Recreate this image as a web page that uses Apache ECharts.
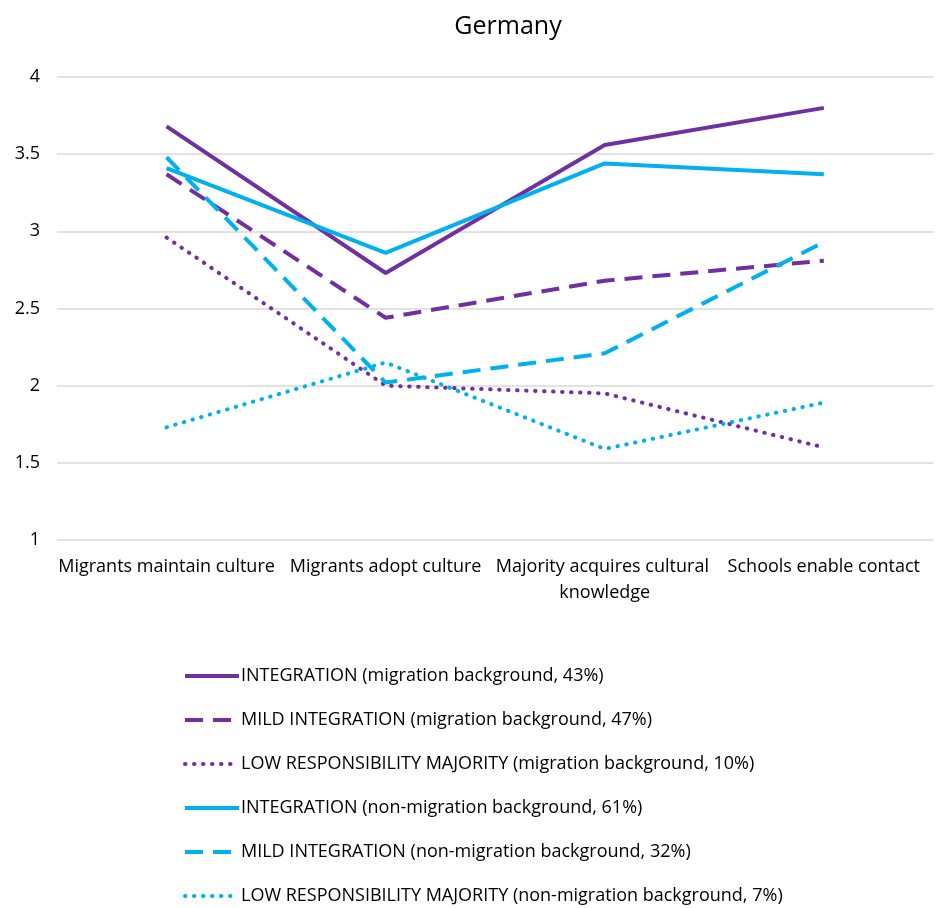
<!DOCTYPE html>
<html>
<head>
<meta charset="utf-8">
<title>Germany</title>
<script src="https://cdn.jsdelivr.net/npm/echarts@6/dist/echarts.min.js"></script>
<style>
	html, body { margin: 0; padding: 0; background: #fff; }
	#chart { width: 936px; height: 908px; }
</style>
</head>
<body>
<div id="chart"></div>
<script>
	// categories on the x axis
	var categories = ['Migrants maintain culture', 'Migrants adopt culture', 'Majority acquires cultural knowledge', 'Schools enable contact'];
	var yTicks = [1, 4, 0.5]; // min, max, step

	var integrationMig = [3.68, 2.73, 3.56, 3.80];
	var mildMig = [3.37, 2.44, 2.68, 2.81];
	var lowMig = [2.96, 2.00, 1.95, 1.60];
	var integrationNon = [3.41, 2.86, 3.44, 3.37];
	var mildNon = [3.48, 2.02, 2.21, 2.93];
	var lowNon = [1.73, 2.15, 1.59, 1.89];

	var names = [
		'INTEGRATION (migration background, 43%)',
		'MILD INTEGRATION (migration background, 47%)',
		'LOW RESPONSIBILITY MAJORITY (migration background, 10%)',
		'INTEGRATION (non-migration background, 61%)',
		'MILD INTEGRATION (non-migration background, 32%)',
		'LOW RESPONSIBILITY MAJORITY (non-migration background, 7%)'
	];

	var purple = '#7030A0';
	var blue = '#00B0F0';
	var font = 'Open Sans';

	function mkLine(name, data, color, type) {
		var dash = 'solid';
		if (type == 'dash') dash = [18, 10];
		if (type == 'dot') dash = [0.5, 8.5];
		return {
			name: name,
			type: 'line',
			data: data,
			symbol: 'none',
			smooth: false,
			lineStyle: {
				color: color,
				width: 4,
				type: dash,
				cap: type == 'dot' ? 'round' : 'butt'
			},
			itemStyle: { color: color }
		};
	}

	var myChart = echarts.init(document.getElementById('chart'));
	myChart.setOption({
		backgroundColor: '#fff',
		animation: false,
		textStyle: { fontFamily: font },
		title: {
			text: 'Germany',
			left: 503,
			textAlign: 'center',
			top: 9,
			textStyle: { fontFamily: font, fontSize: 25, fontWeight: 'normal', color: '#000' }
		},
		grid: {
			left: 57,
			right: -12,
			top: 77,
			bottom: 368,
			containLabel: false
		},
		legend: {
			orient: 'vertical',
			left: 183,
			top: 666,
			padding: 0,
			itemWidth: 54,
			itemHeight: 14,
			itemGap: 24,
			data: names,
			itemStyle: { opacity: 0 },
			lineStyle: { width: 4 },
			textStyle: { fontFamily: font, fontSize: 18, lineHeight: 20, color: '#000', padding: [0, 0, 0, -3] }
		},
		xAxis: {
			type: 'category',
			data: categories,
			boundaryGap: true,
			axisLine: { show: false },
			axisTick: { show: false },
			axisLabel: {
				color: '#000',
				fontFamily: font,
				fontSize: 18,
				margin: 14,
				lineHeight: 26,
				width: 222,
				overflow: 'break',
				interval: 0
			}
		},
		yAxis: {
			type: 'value',
			min: yTicks[0],
			max: yTicks[1],
			interval: yTicks[2],
			axisLine: { show: false },
			axisTick: { show: false },
			axisLabel: { color: '#000', fontFamily: font, fontSize: 18, margin: 17 },
			splitLine: { lineStyle: { color: '#d9d9d9', width: 1.5 } }
		},
		series: [
			mkLine(names[0], integrationMig, purple, 'solid'),
			mkLine(names[1], mildMig, purple, 'dash'),
			mkLine(names[2], lowMig, purple, 'dot'),
			mkLine(names[3], integrationNon, blue, 'solid'),
			mkLine(names[4], mildNon, blue, 'dash'),
			mkLine(names[5], lowNon, blue, 'dot')
		]
	});
</script>
</body>
</html>
